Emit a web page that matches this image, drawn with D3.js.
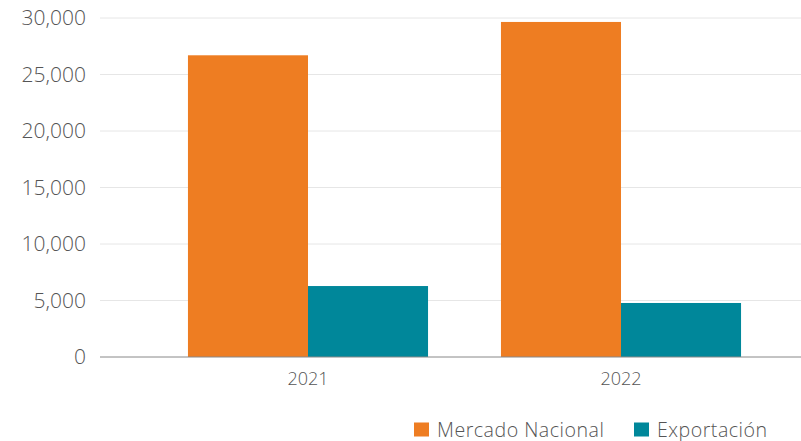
<!DOCTYPE html>
<html>
<head>
<meta charset="utf-8">
<script src="https://cdn.jsdelivr.net/npm/d3@7"></script>
<style>
  body { margin: 0; background: #fff; }
  svg { display: block; font-family: 'Open Sans', sans-serif; }
</style>
</head>
<body>
<svg id="chart" width="801" height="441"></svg>
<script>
// chart data
const years = ['2021', '2022'];
const series = ['Mercado Nacional', 'Exportación'];
const mercadoNacional = [26700, 29650];
const exportacion = [6280, 4780];
const yTicks = [0, 5000, 10000, 15000, 20000, 25000, 30000];

const colors = ['#EE7D22', '#00879A'];

const svg = d3.select('#chart');
const margin = { top: 18, left: 100, bottom: 84 };
const height = 441 - margin.top - margin.bottom;

// band scale runs past the right edge, like the cropped original
const x0 = d3.scaleBand().domain(years).range([margin.left, 829])
  .paddingInner(0.233).paddingOuter(0.281);
const x1 = d3.scaleBand().domain(series).range([0, x0.bandwidth()]);
const y = d3.scaleLinear().domain([0, 30000]).range([margin.top + height, margin.top]);

// gridlines
svg.append('g')
  .selectAll('line')
  .data(yTicks.filter(d => d > 0))
  .join('line')
  .attr('x1', margin.left)
  .attr('x2', 801)
  .attr('y1', d => y(d))
  .attr('y2', d => y(d))
  .attr('stroke', '#e6e6e6')
  .attr('stroke-width', 1);

// y axis labels
const yAxis = svg.append('g')
  .attr('transform', `translate(${margin.left},0)`)
  .call(d3.axisLeft(y).tickValues(yTicks).tickFormat(d3.format(',')).tickSize(0).tickPadding(14));
yAxis.select('.domain').remove();
yAxis.selectAll('text')
  .attr('font-size', 21)
  .attr('font-weight', 300)
  .attr('fill', '#555')
  .attr('font-family', "'Open Sans', sans-serif");

// bars
const rows = years.map((yr, i) => ({ year: yr, values: [mercadoNacional[i], exportacion[i]] }));
svg.append('g')
  .selectAll('g')
  .data(rows)
  .join('g')
  .attr('transform', d => `translate(${x0(d.year)},0)`)
  .selectAll('rect')
  .data(d => d.values.map((v, i) => ({ key: series[i], value: v, i })))
  .join('rect')
  .attr('x', d => x1(d.key))
  .attr('width', x1.bandwidth())
  .attr('y', d => y(d.value))
  .attr('height', d => y(0) - y(d.value))
  .attr('fill', d => colors[d.i]);

// x axis
const xAxis = svg.append('g')
  .attr('transform', `translate(0,${y(0)})`)
  .call(d3.axisBottom(x0).tickSize(0).tickPadding(15));
xAxis.select('.domain').remove();
xAxis.selectAll('text')
  .attr('font-size', 18)
  .attr('font-weight', 300)
  .attr('fill', '#555')
  .attr('font-family', "'Open Sans', sans-serif");
svg.append('line')
  .attr('x1', margin.left).attr('x2', 801)
  .attr('y1', y(0)).attr('y2', y(0))
  .attr('stroke', '#888').attr('stroke-width', 1);

// legend
const legendX = [414, 634];
const legend = svg.append('g')
  .selectAll('g')
  .data(series)
  .join('g')
  .attr('transform', (d, i) => `translate(${legendX[i]},422.5)`);
legend.append('rect')
  .attr('width', 15).attr('height', 14)
  .attr('fill', (d, i) => colors[i]);
legend.append('text')
  .attr('x', 23).attr('y', 14)
  .attr('font-size', 19.6)
  .attr('font-weight', 300)
  .attr('letter-spacing', 0.5)
  .attr('fill', '#555')
  .text(d => d);
</script>
</body>
</html>
